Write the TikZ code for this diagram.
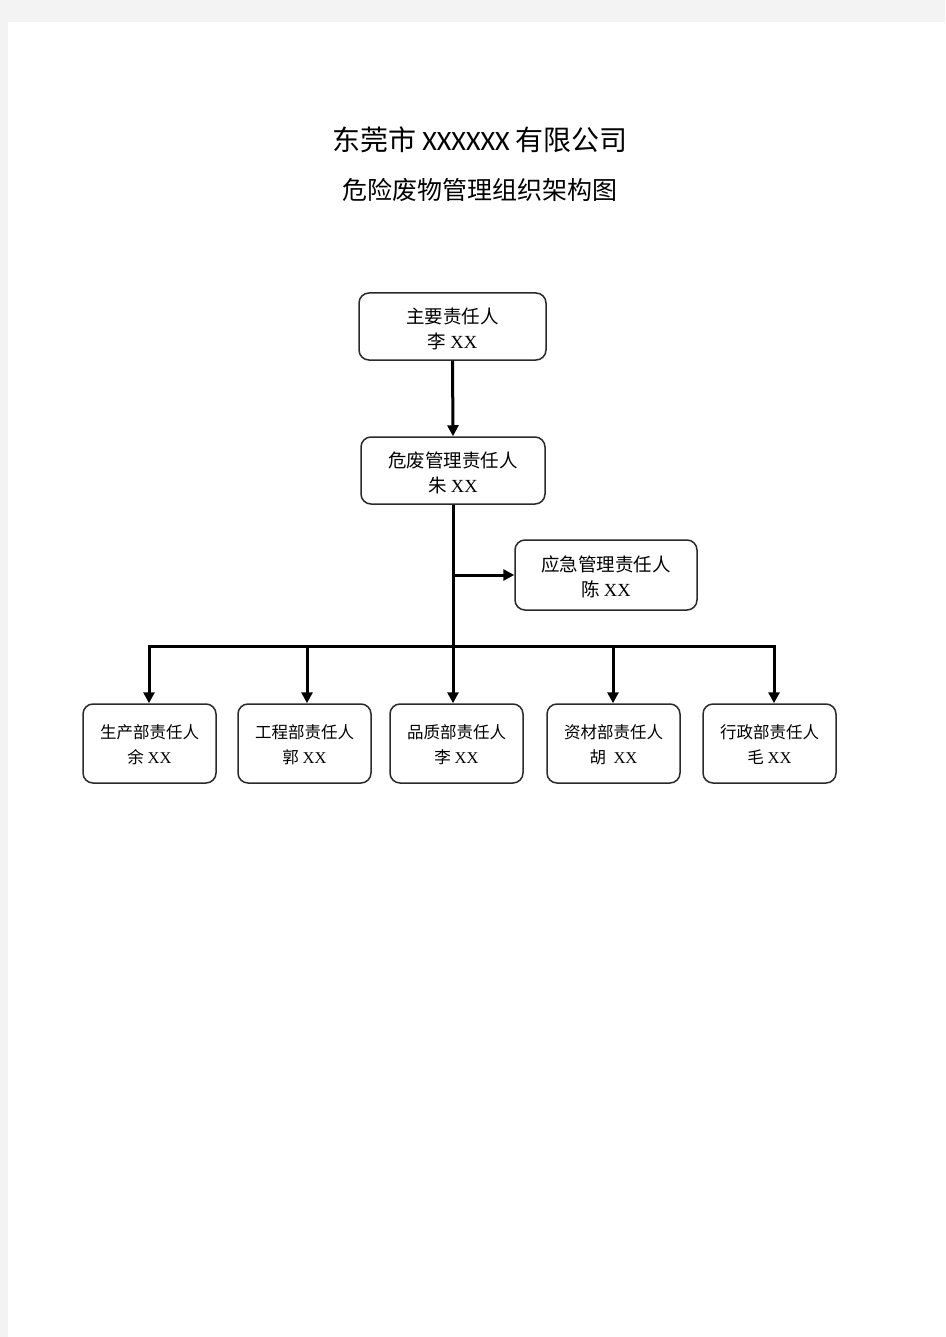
\documentclass[tikz,border=0pt]{standalone}
\usepackage{fontspec}
\usetikzlibrary{arrows.meta}
\newfontfamily\cjk{Noto Sans CJK SC}
\newfontfamily\latinserif{Liberation Serif}
\newfontfamily\latinsans{Carlito}
\definecolor{pagebg}{HTML}{F3F3F3}
\definecolor{boxline}{HTML}{2A2A2A}
\tikzset{
  orgbox/.style={draw=boxline, line width=1.5pt, rounded corners=10pt, fill=white, inner sep=0pt},
  deptbox/.style={orgbox, minimum width=133pt, minimum height=79pt},
  bigtext/.style={align=center, inner sep=0pt, font=\cjk\fontsize{18.5}{25}\selectfont},
  smalltext/.style={align=center, inner sep=0pt, font=\cjk\fontsize{16.5}{25}\selectfont},
  conn/.style={line width=3pt, black},
  arr/.style={conn, -{Triangle[length=11pt,width=11pt]}},
}
\newcommand{\xx}{{\latinserif XX}}
\begin{document}
\begin{tikzpicture}[x=1pt,y=-1pt]
\fill[pagebg] (0,0) rectangle (945,1337);
\fill[white] (8,22) rectangle (945,1337);
\useasboundingbox (0,0) rectangle (945,1337);

\node[font=\cjk\fontsize{28}{28}\selectfont, inner sep=0pt] (title) at (480,140) {东莞市 {\latinsans XXXXXX} 有限公司};
\node[font=\cjk\fontsize{25}{25}\selectfont, inner sep=0pt] (subtitle) at (480,190) {危险废物管理组织架构图};

\node[orgbox, minimum width=187pt, minimum height=67pt] (top) at (452.5,326.5) {};
\node[orgbox, minimum width=184pt, minimum height=67pt] (mid) at (453,470.5) {};
\node[orgbox, minimum width=182pt, minimum height=70pt] (emg) at (606,575) {};
\node[bigtext] (topT) at ([yshift=-2pt]top.center) {主要责任人\\李 \xx};
\node[bigtext] (midT) at ([yshift=-2pt]mid.center) {危废管理责任人\\朱 \xx};
\node[bigtext] (emgT) at ([yshift=-2pt]emg.center) {应急管理责任人\\陈 \xx};

\node[deptbox] (b1) at (149.5,743.5) {};
\node[deptbox] (b2) at (304.5,743.5) {};
\node[deptbox] (b3) at (456.5,743.5) {};
\node[deptbox] (b4) at (613.5,743.5) {};
\node[deptbox] (b5) at (769.5,743.5) {};
\node[smalltext] (b1T) at ([yshift=-1pt]b1.center) {生产部责任人\\余 \xx};
\node[smalltext] (b2T) at ([yshift=-1pt]b2.center) {工程部责任人\\郭 \xx};
\node[smalltext] (b3T) at ([yshift=-1pt]b3.center) {品质部责任人\\李 \xx};
\node[smalltext] (b4T) at ([yshift=-1pt]b4.center) {资材部责任人\\胡 \ \xx};
\node[smalltext] (b5T) at ([yshift=-1pt]b5.center) {行政部责任人\\毛 \xx};

\coordinate (busL) at (149,646);
\coordinate (busR) at (774,646);
\coordinate (j2) at (307,646);
\coordinate (j4) at (613,646);

\draw[arr] (top.south) -- (mid.north);
\draw[conn] (mid.south) -- (mid.south |- busL);
\draw[arr] (mid.south |- busL) -- (mid.south |- b3.north);
\draw[arr] (mid.south |- emg.west) -- (emg.west);
\draw[conn] ([xshift=-1.5pt]busL) -- ([xshift=1.5pt]busR);
\draw[arr] (busL) -- (busL |- b1.north);
\draw[arr] (j2) -- (j2 |- b2.north);
\draw[arr] (j4) -- (j4 |- b4.north);
\draw[arr] (busR) -- (busR |- b5.north);
\end{tikzpicture}
\end{document}
